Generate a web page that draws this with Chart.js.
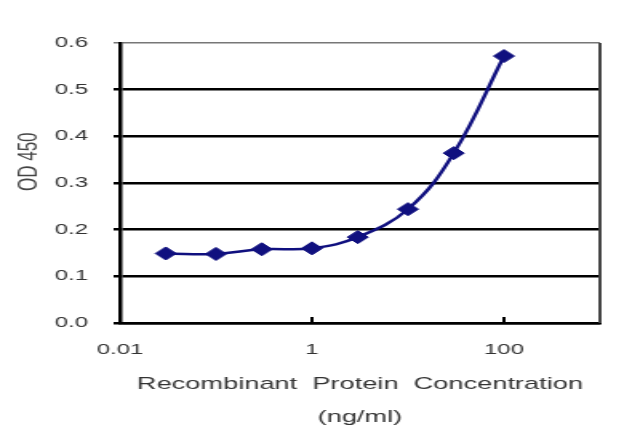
<!DOCTYPE html>
<html>
<head>
<meta charset="utf-8">
<script src="https://cdn.jsdelivr.net/npm/chart.js@4.4.1/dist/chart.umd.min.js"></script>
<style>
  html, body { margin: 0; padding: 0; background: #fff; overflow: hidden; }
  #wrap { width: 400px; height: 427px; transform: scaleX(1.6); transform-origin: 0 0; }
</style>
</head>
<body>
<div id="wrap"><canvas id="graphique" width="400" height="427"></canvas></div>
<script>
// Donnees
const concentrations = [0.03, 0.1, 0.3, 1, 3, 10, 30, 100];   // ng/ml
const od450 = [0.149, 0.148, 0.158, 0.160, 0.184, 0.244, 0.364, 0.572];
const xTicks = [0.01, 1, 100];
const yTicks = [0, 0.1, 0.2, 0.3, 0.4, 0.5, 0.6];

const points = concentrations.map((c, i) => ({ x: c, y: od450[i] }));

// cadre droit + petites graduations vers l'interieur sur l'axe x
const cadre = {
    id: "cadre",
    afterDraw(chart) {
        const ctx = chart.ctx;
        const area = chart.chartArea;
        const xs = chart.scales.x;
        ctx.save();
        ctx.strokeStyle = "#444";
        ctx.lineWidth = 2;
        ctx.beginPath();
        ctx.moveTo(area.right, area.top);
        ctx.lineTo(area.right, area.bottom);
        ctx.stroke();
        ctx.strokeStyle = "#000";
        ctx.lineWidth = 2;
        for (const v of xTicks.slice(1)) {
            const px = xs.getPixelForValue(v);
            ctx.beginPath();
            ctx.moveTo(px, area.bottom);
            ctx.lineTo(px, area.bottom - 6);
            ctx.stroke();
        }
        ctx.restore();
    }
};

const config = {
    type: "line",
    data: {
        datasets: [{
            data: points,
            borderColor: "#10107f",
            backgroundColor: "#10107f",
            borderWidth: 2.5,
            tension: 0.4,
            pointStyle: "rectRot",
            pointRadius: 6.5,
            pointBorderWidth: 1
        }]
    },
    options: {
        responsive: false,
        animation: false,
        devicePixelRatio: 1,
        layout: { padding: { top: 43, right: 25, left: 0, bottom: 0 } },
        plugins: { legend: { display: false }, tooltip: { enabled: false } },
        scales: {
            x: {
                type: "logarithmic",
                min: 0.01,
                max: 1000,
                afterBuildTicks: (axis) => { axis.ticks = xTicks.map(v => ({ value: v })); },
                afterFit: (axis) => { axis.height = 104; },
                grid: { display: false, drawTicks: false },
                border: { display: true, color: "#000", width: 2.5 },
                ticks: {
                    autoSkip: false,
                    maxRotation: 0,
                    padding: 18,
                    color: "#333",
                    font: { family: "Liberation Sans", size: 15 },
                    callback: (v) => String(v)
                },
                title: {
                    display: true,
                    text: ["Recombinant  Protein  Concentration", "(ng/ml)"],
                    color: "#333",
                    font: { family: "Liberation Sans", size: 17, lineHeight: 1.94 },
                    padding: { top: 0, bottom: -7 }
                }
            },
            y: {
                min: 0,
                max: 0.6,
                afterBuildTicks: (axis) => { axis.ticks = yTicks.map(v => ({ value: v })); },
                afterFit: (axis) => { axis.width = 75; },
                grid: {
                    color: (c) => c.tick && c.tick.value >= 0.6 ? "#777" : "#000",
                    lineWidth: (c) => c.tick && c.tick.value >= 0.6 ? 1.5 : 2.5,
                    tickLength: 4
                },
                border: { display: true, color: "#000", width: 2.5 },
                ticks: {
                    padding: 16,
                    color: "#333",
                    font: { family: "Liberation Sans", size: 15 },
                    callback: (v) => Number(v).toFixed(1)
                },
                title: {
                    display: true,
                    text: "         OD 450",
                    color: "#444",
                    font: { family: "Liberation Sans", size: 17 },
                    padding: { top: 8, bottom: 0 }
                }
            }
        }
    },
    plugins: [cadre]
};

const graphique = new Chart(document.querySelector("#graphique"), config);
</script>
</body>
</html>
